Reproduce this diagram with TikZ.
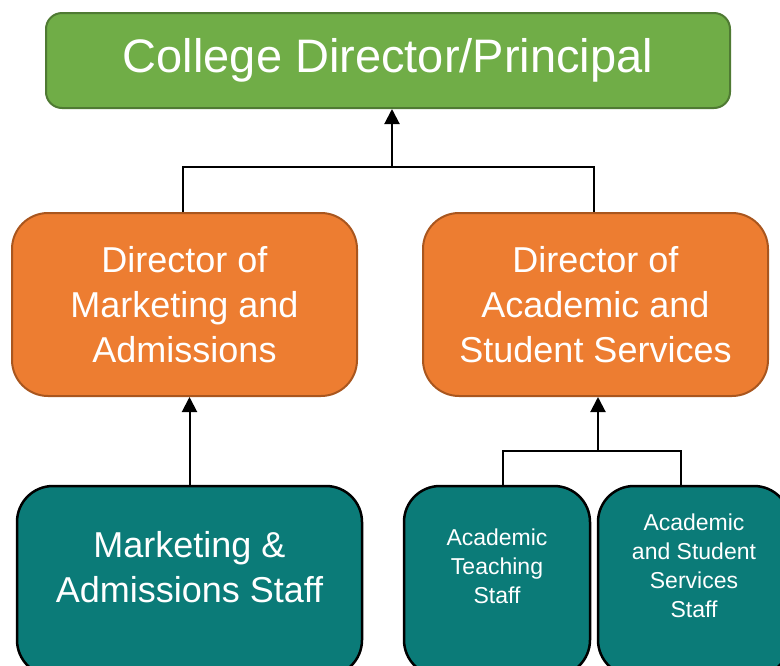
\documentclass[tikz,border=0pt]{standalone}
\usepackage{fontspec}
\setmainfont{Liberation Sans}
\usetikzlibrary{positioning,arrows.meta}
\definecolor{headgreen}{HTML}{70AD47}
\definecolor{headgreenline}{HTML}{4F7A33}
\definecolor{dirorange}{HTML}{ED7D31}
\definecolor{dirorangeline}{HTML}{A9561E}
\definecolor{staffteal}{HTML}{0B7B78}

\begin{document}
\begin{tikzpicture}[x=1pt,y=-1pt]
		\tikzstyle{box}=[rectangle, text=white, align=center, inner sep=0pt, line width=2pt]
		\tikzstyle{headbox}=[box, fill=headgreen, draw=headgreenline, rounded corners=16pt, minimum width=684pt, minimum height=95pt, font=\fontsize{47}{56}\selectfont]
		\tikzstyle{dirbox}=[box, fill=dirorange, draw=dirorangeline, rounded corners=36pt, minimum width=345pt, minimum height=183pt, font=\fontsize{36}{45}\selectfont]
		\tikzstyle{staffbox}=[box, fill=staffteal, draw=black, line width=2.5pt, rounded corners=36pt, minimum height=190pt]
		\tikzstyle{bigstaff}=[text=white, align=center, font=\fontsize{36}{45}\selectfont, yshift=14pt]
		\tikzstyle{smallstaff}=[text=white, align=center, font=\fontsize{23}{29}\selectfont, yshift=15pt]
		\tikzstyle{connect}=[line width=2pt]
		\tikzstyle{up}=[connect, -{Triangle[width=15pt,length=15pt]}]
		\useasboundingbox (0,0) rectangle (780,665);
		\clip (0,0) rectangle (780,665);
		
		\node[headbox] (principal) at (388,60.5) {College Director/Principal};
		
		\node[dirbox] (marketing) at (184.5,304.5) {Director of\\Marketing and\\Admissions};
		\node[dirbox] (academic) at (595.5,304.5) {Director of\\Academic and\\Student Services};
		
		\node[staffbox, minimum width=345pt, label={[bigstaff]center:{Marketing \&\\Admissions Staff}}] (mastaff) at (189.5,581) {};
		\node[staffbox, minimum width=186pt, label={[smallstaff]center:{Academic\\Teaching\\Staff}}] (teachstaff) at (497,581) {};
		\node[staffbox, minimum width=192pt, label={[smallstaff]center:{Academic\\and Student\\Services\\Staff}}] (servstaff) at (694,581) {};
		
		\coordinate (topjoin) at (392,167);
		\coordinate (staffjoin) at (598,451);
		
		\draw[connect] ([xshift=-1.5pt]marketing.north) |- (topjoin) -| ([xshift=-1.5pt]academic.north);
		\draw[up] (topjoin) -- (topjoin |- principal.south);
		
		\draw[up] (mastaff.north) -- (mastaff.north |- marketing.south);
		
		\draw[connect] ([xshift=6pt]teachstaff.north) |- (staffjoin) -| ([xshift=-13pt]servstaff.north);
		\draw[up] (staffjoin) -- (staffjoin |- academic.south);
		
\end{tikzpicture}
\end{document}
